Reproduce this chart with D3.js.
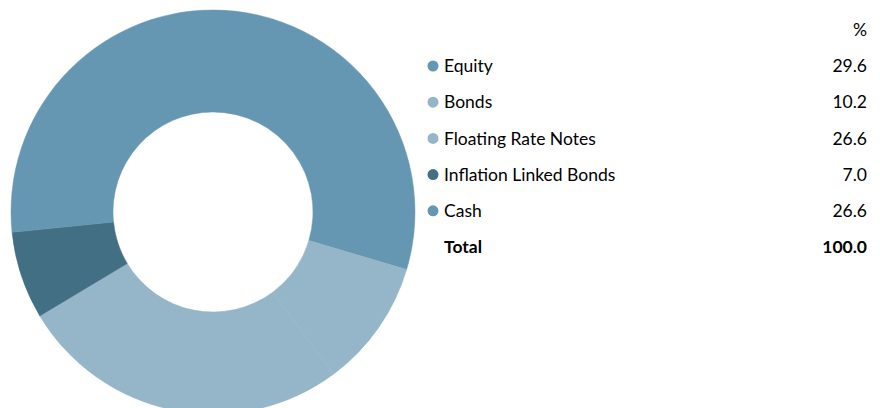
<!DOCTYPE html>
<html>
<head>
<meta charset="utf-8">
<script src="https://cdn.jsdelivr.net/npm/d3@7"></script>
<style>
  body { margin: 0; background: #fff; }
  svg { display: block; font-family: Lato, "Open Sans", sans-serif; }
</style>
</head>
<body>
<div id="chart"></div>
<script>
const categories = ["Equity", "Bonds", "Floating Rate Notes", "Inflation Linked Bonds", "Cash"];
const shares = [29.6, 10.2, 26.6, 7.0, 26.6];
const sliceColors = ["#6597b3", "#95b5c9", "#95b5c9", "#436f85", "#6597b3"];
const totalLabel = "Total";
const totalValue = 100.0;

const width = 880, height = 408;

const svg = d3.select("#chart")
    .append("svg")
    .attr("width", width)
    .attr("height", height);

// Donut
const cx = 213, cy = 212, outerR = 202, innerR = 100;

const pie = d3.pie().sort(null).value(d => d.v);
const arc = d3.arc().innerRadius(innerR).outerRadius(outerR);
const data = categories.map((c, i) => ({ name: c, v: shares[i], color: sliceColors[i] }));

svg.append("g")
    .attr("transform", `translate(${cx},${cy})`)
    .selectAll("path")
    .data(pie(data))
    .enter()
    .append("path")
    .attr("d", arc)
    .attr("fill", d => d.data.color)
    .attr("stroke", d => d.data.color)
    .attr("stroke-width", 0.5);

// Legend table
const rowY = d3.scalePoint()
    .domain(categories.concat([totalLabel]))
    .range([66, 247]);

const legend = svg.append("g").style("font-size", "17.5px").style("fill", "#000");

legend.append("text")
    .attr("x", 867)
    .attr("y", 30)
    .attr("dy", "0.35em")
    .attr("text-anchor", "end")
    .text("%");

const rows = legend.selectAll(".row")
    .data(data)
    .enter()
    .append("g")
    .attr("class", "row")
    .attr("transform", d => `translate(0,${rowY(d.name)})`);

rows.append("circle")
    .attr("cx", 433)
    .attr("r", 5.5)
    .attr("fill", d => d.color);

rows.append("text")
    .attr("x", 444)
    .attr("dy", "0.35em")
    .text(d => d.name);

rows.append("text")
    .attr("x", 867)
    .attr("dy", "0.35em")
    .attr("text-anchor", "end")
    .text(d => d3.format(".1f")(d.v));

const tot = legend.append("g")
    .attr("transform", `translate(0,${rowY(totalLabel)})`)
    .style("font-weight", "bold");

tot.append("text")
    .attr("x", 444)
    .attr("dy", "0.35em")
    .text(totalLabel);

tot.append("text")
    .attr("x", 867)
    .attr("dy", "0.35em")
    .attr("text-anchor", "end")
    .text(d3.format(".1f")(totalValue));
</script>
</body>
</html>
